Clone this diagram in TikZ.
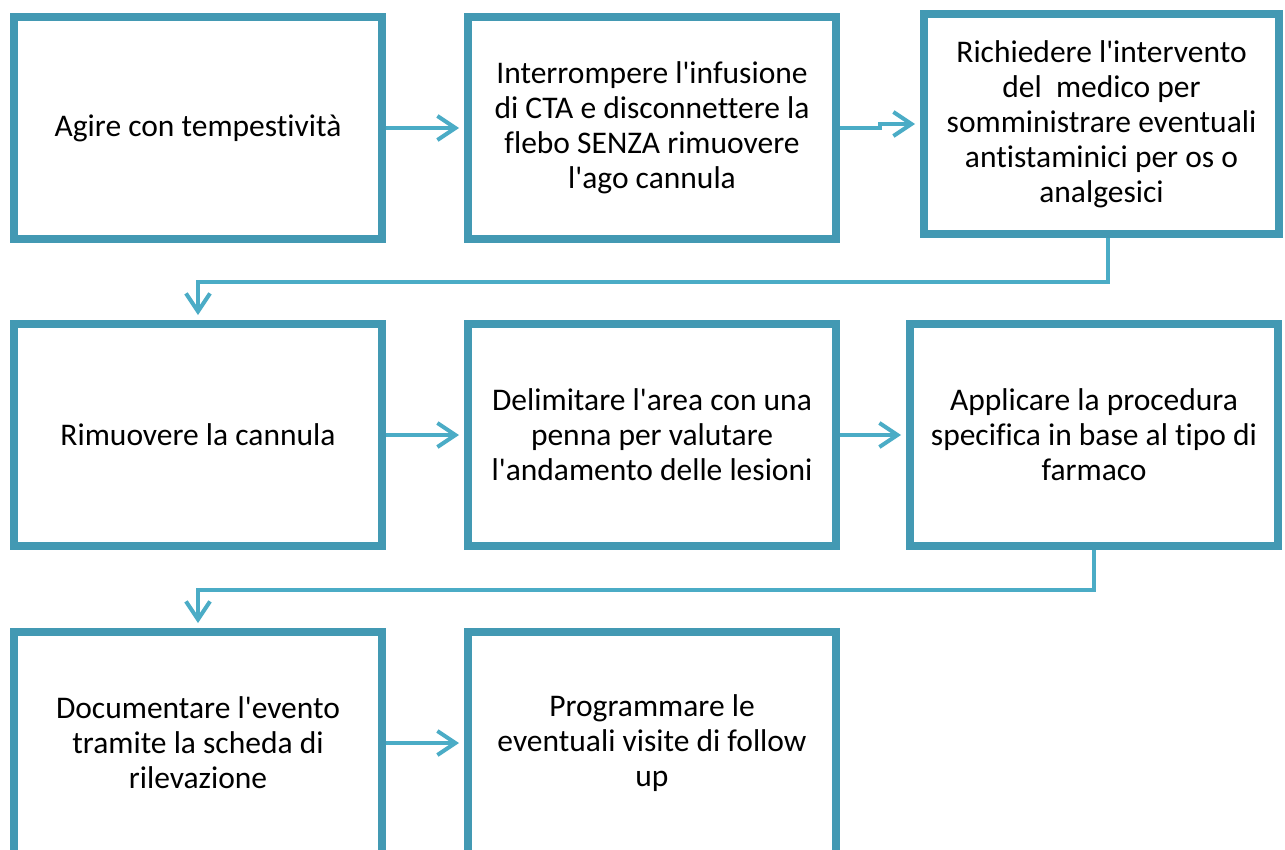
\documentclass[tikz,border=0pt]{standalone}
\usepackage{fontspec}
\setmainfont{Carlito}[Ligatures=NoCommon]
\usetikzlibrary{arrows.meta}
\definecolor{boxline}{HTML}{4399B3}
\definecolor{arrowline}{HTML}{4BACC6}
\newcommand{\apo}{\textquotesingle}
\begin{document}
\begin{tikzpicture}[
x=1pt, y=-1pt,
box/.style={
draw=boxline,
line width=8pt,
align=center,
font=\fontsize{31.5}{35}\selectfont,
inner sep=0pt,
minimum width=368pt,
minimum height=222pt
},
arrow/.style={-{Straight Barb[length=18pt,width=24pt,line width=4pt]}, line width=4pt, draw=arrowline, shorten >=5pt}
]
\useasboundingbox (0,0) rectangle (1285,849);
\node[box] (agire) at (198,128) {Agire con tempestivit\`a};
\node[box] (interrompere) at (652,128)
{Interrompere l\apo infusione\\di CTA e disconnettere la\\flebo SENZA rimuovere\\l\apo ago cannula};
\node[box, minimum width=355pt, minimum height=220pt] (medico) at (1101.5,124)
{Richiedere l\apo intervento\\del\ \ medico per\\somministrare eventuali\\antistaminici per os o\\analgesici};
\node[box] (rimuovere) at (198,435) {Rimuovere la cannula};
\node[box] (delimitare) at (652,435)
{Delimitare l\apo area con una\\penna per valutare\\l\apo andamento delle lesioni};
\node[box] (procedura) at (1094,435)
{Applicare la procedura\\specifica in base al tipo di\\farmaco};
\node[box] (documentare) at (198,743)
{Documentare l\apo evento\\tramite la scheda di\\rilevazione};
\node[box] (programmare) at (652,743)
{Programmare le\\eventuali visite di follow\\up};
\draw[arrow] (agire) -- (interrompere);
\draw[arrow] (interrompere.east) -- ++(40,0) |- (medico);
\draw[arrow] ([xshift=6pt]medico.south) -- ++(0,44) -| (rimuovere);
\draw[arrow] (rimuovere) -- (delimitare);
\draw[arrow] (delimitare) -- (procedura);
\draw[arrow] (procedura.south) -- ++(0,40) -| (documentare);
\draw[arrow] (documentare) -- (programmare);
\end{tikzpicture}
\end{document}
